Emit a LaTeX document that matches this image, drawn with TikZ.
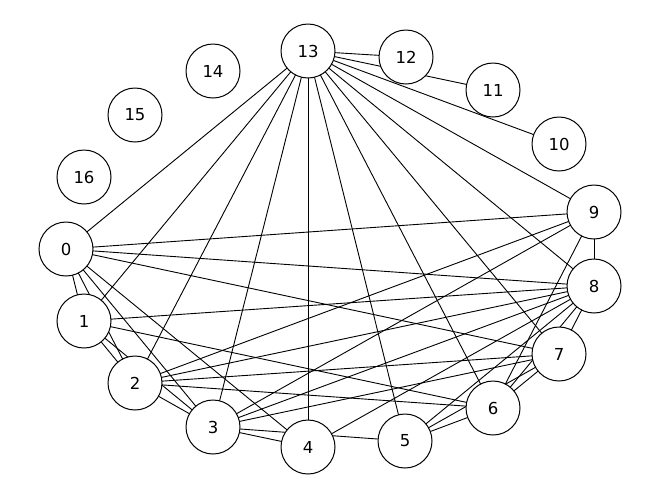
\documentclass[tikz,border=0pt]{standalone}
\usepackage{fontspec}
\setmainfont{DejaVu Sans}
\begin{document}
\begin{tikzpicture}[x=1pt,y=-1pt,
  vtx/.style={circle,draw=black,fill=white,line width=1pt,minimum size=54pt,inner sep=0pt,font=\fontsize{16.5}{18}\selectfont},
  edge/.style={draw=black,line width=0.9pt}]
\useasboundingbox (0,0) rectangle (660,499);
\coordinate (p0) at (66,249);
\coordinate (p1) at (84,321);
\coordinate (p2) at (135,383);
\coordinate (p3) at (213,427);
\coordinate (p4) at (308,447);
\coordinate (p5) at (405,441);
\coordinate (p6) at (493,408);
\coordinate (p7) at (559,354);
\coordinate (p8) at (594,286);
\coordinate (p9) at (594,212);
\coordinate (p10) at (559,144);
\coordinate (p11) at (493,90);
\coordinate (p12) at (406,57);
\coordinate (p13) at (308,51);
\coordinate (p14) at (213,71);
\coordinate (p15) at (135,115);
\coordinate (p16) at (84,177);
\foreach \a/\b in {13/0,13/1,13/2,13/3,13/4,13/5,13/6,13/7,13/8,13/9,13/10,13/11,13/12,
  0/1,0/2,0/3,0/4,0/7,0/8,0/9,
  1/2,1/3,1/6,1/8,
  2/3,2/6,2/7,2/8,2/9,
  3/4,3/5,3/7,3/8,3/9,
  4/8,5/6,5/7,5/8,6/7,6/8,6/9,7/8,8/9}
  \draw[edge] (p\a) -- (p\b);
\foreach \i in {0,...,16}
  \node[vtx] (n\i) at (p\i) {\i};
\end{tikzpicture}
\end{document}
